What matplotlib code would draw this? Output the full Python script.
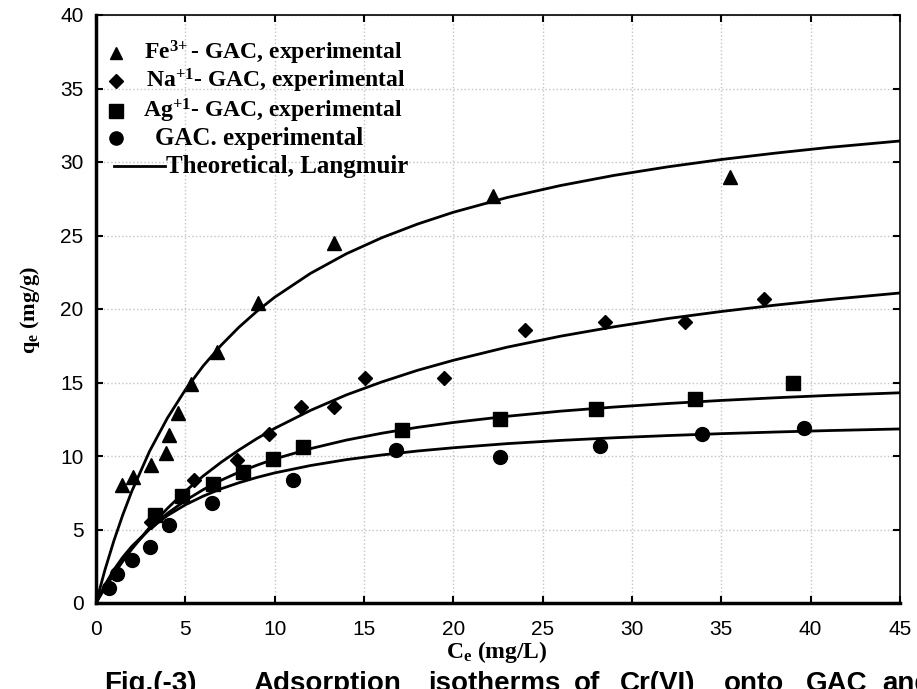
import matplotlib
matplotlib.use("Agg")
import matplotlib.pyplot as plt
from matplotlib.lines import Line2D

plt.rcParams['mathtext.fontset'] = 'custom'
plt.rcParams['mathtext.rm'] = 'Liberation Serif:bold'
plt.rcParams['mathtext.it'] = 'Liberation Serif:bold'
plt.rcParams['mathtext.bf'] = 'Liberation Serif:bold'

# experimental points, Ce (mg/L) vs qe (mg/g)
fe_ce = [1.46, 2.07, 3.08, 3.9, 4.1, 4.6, 5.3, 6.8, 9.07, 13.3, 22.2, 35.5]
fe_qe = [8.0, 8.6, 9.4, 10.2, 11.4, 12.9, 14.9, 17.1, 20.4, 24.5, 27.7, 29.0]

na_ce = [3.1, 5.5, 7.9, 9.7, 11.5, 13.3, 15.05, 19.5, 24.0, 28.5, 32.96, 37.4]
na_qe = [5.5, 8.4, 9.7, 11.5, 13.3, 13.3, 15.3, 15.3, 18.6, 19.1, 19.1, 20.7]

ag_ce = [3.3, 4.8, 6.55, 8.2, 9.9, 11.6, 17.1, 22.6, 28.0, 33.5, 39.0]
ag_qe = [6.0, 7.3, 8.1, 8.9, 9.8, 10.6, 11.8, 12.5, 13.2, 13.9, 15.0]

gac_ce = [0.7, 1.2, 2.0, 3.0, 4.1, 6.5, 11.0, 16.8, 22.6, 28.2, 33.9, 39.6]
gac_qe = [1.0, 2.0, 2.9, 3.8, 5.3, 6.8, 8.4, 10.4, 9.9, 10.7, 11.5, 11.9]

# Langmuir curves
curve_ce = [0, 0.5, 1, 1.5, 2, 3, 4, 5, 6, 7, 8, 9, 10, 12, 14, 16, 18, 20,
            23, 26, 29, 32, 35, 38, 41, 45]
fe_fit = [0, 2.25, 4.23, 6.0, 7.59, 10.33, 12.59, 14.5, 16.13, 17.53, 18.76,
          19.84, 20.8, 22.42, 23.75, 24.85, 25.78, 26.58, 27.58, 28.4, 29.09,
          29.67, 30.17, 30.6, 30.99, 31.43]
na_fit = [0, 1.02, 1.96, 2.84, 3.66, 5.14, 6.44, 7.6, 8.64, 9.57, 10.41,
          11.18, 11.88, 13.1, 14.15, 15.04, 15.83, 16.51, 17.4, 18.15, 18.79,
          19.35, 19.83, 20.26, 20.64, 21.09]
ag_fit = [0, 1.13, 2.11, 2.97, 3.74, 5.04, 6.1, 6.97, 7.71, 8.35, 8.9,
          9.37, 9.8, 10.5, 11.08, 11.55, 11.95, 12.28, 12.7, 13.05, 13.33,
          13.57, 13.78, 13.96, 14.12, 14.3]
gac_fit = [0, 1.23, 2.26, 3.12, 3.85, 5.03, 5.95, 6.68, 7.27, 7.77, 8.18,
           8.54, 8.85, 9.35, 9.75, 10.07, 10.34, 10.56, 10.84, 11.06, 11.24,
           11.39, 11.52, 11.63, 11.73, 11.84]

x_ticks = [0, 5, 10, 15, 20, 25, 30, 35, 40, 45]
y_ticks = [0, 5, 10, 15, 20, 25, 30, 35, 40]

labels = [r'Fe$^{3\!+}$- GAC, experimental',
          r'Na$^{+1}$- GAC, experimental',
          r'Ag$^{+1}$- GAC, experimental',
          'GAC. experimental',
          'Theoretical, Langmuir']

caption_words = ['Fig.(-3)', 'Adsorption', 'isotherms', 'of', 'Cr(VI)', 'onto', 'GAC', 'and']
caption_x = [104, 253, 428, 574, 620, 724, 806, 882]

W, H = 917, 689


def fx(px):
    return px / W


def fy(py):
    return 1 - py / H


fig = plt.figure(figsize=(9.17, 6.89), dpi=100)
ax = fig.add_axes([fx(96), fy(603), 804 / W, 588 / H])

for fit in [fe_fit, na_fit, ag_fit, gac_fit]:
    ax.plot(curve_ce, fit, color='black', lw=2.0, zorder=3)

ax.plot(fe_ce, fe_qe, '^', color='black', ms=9.5, zorder=4, clip_on=False)
ax.plot(na_ce, na_qe, 'D', color='black', ms=7, zorder=4, clip_on=False)
ax.plot(ag_ce, ag_qe, 's', color='black', ms=10, zorder=4, clip_on=False)
ax.plot(gac_ce, gac_qe, 'o', color='black', ms=10, zorder=4, clip_on=False)

ax.set_xlim(0, 45)
ax.set_ylim(0, 40)
ax.set_xticks(x_ticks)
ax.set_yticks(y_ticks)
ax.set_xticklabels([str(t) for t in x_ticks], family='Liberation Sans', fontsize=15)
ax.set_yticklabels([str(t) for t in y_ticks], family='Liberation Sans', fontsize=15)
ax.tick_params(direction='in', length=5, width=1.5, top=True, right=True)
ax.tick_params(axis='x', pad=12)
ax.tick_params(axis='y', pad=9)
ax.grid(True, color='#c4c4c4', ls=':', lw=1.0)
ax.set_axisbelow(True)
for side in ['left', 'bottom']:
    ax.spines[side].set_linewidth(2.5)
for side in ['top', 'right']:
    ax.spines[side].set_linewidth(1.2)

fig.text(fx(497), fy(652), r'C$_{\rm e}$ (mg/L)', family='Liberation Serif',
         fontweight='bold', fontsize=17, ha='center', va='center')
fig.text(fx(30), fy(310), r'q$_{\rm e}$ (mg/g)', family='Liberation Serif',
         fontweight='bold', fontsize=16, ha='center', va='center', rotation=90)

# key, drawn row by row
key_rows = [53, 81, 111, 138, 166]
key_text_x = [144, 146, 143, 155, 166]
key_markers = ['^', 'D', 's', 'o', None]
key_ms = [9, 7, 9.5, 9.5, None]
key_size = [17, 17, 17, 18, 18]
for row, tx, mk, ms, fs, lab in zip(key_rows, key_text_x, key_markers, key_ms,
                                    key_size, labels):
    if mk is None:
        fig.add_artist(Line2D([fx(114), fx(165)], [fy(row), fy(row)],
                              transform=fig.transFigure, color='black', lw=2.0))
    else:
        fig.add_artist(Line2D([fx(116)], [fy(row)], transform=fig.transFigure,
                              marker=mk, ms=ms, color='black', ls='none'))
    fig.text(fx(tx), fy(row), lab, family='Liberation Serif', fontweight='bold',
             fontsize=fs, ha='left', va='center')

for word, xp in zip(caption_words, caption_x):
    fig.text(fx(xp), fy(671), word, family='Liberation Sans',
             fontweight='bold', fontsize=20, va='top', ha='left')

fig.savefig('out.png', dpi=100)
